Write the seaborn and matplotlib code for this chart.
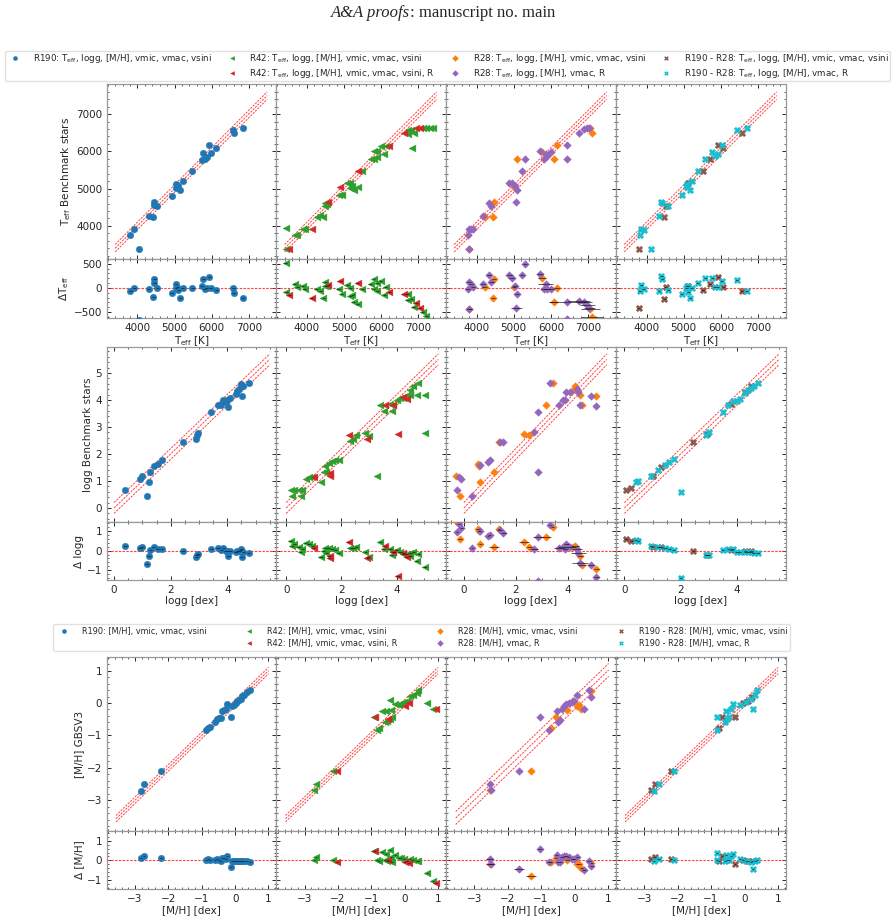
import matplotlib
matplotlib.use("Agg")
import matplotlib.pyplot as plt
import seaborn as sns
import numpy as np
from matplotlib.lines import Line2D
from matplotlib.ticker import AutoMinorLocator

# ------------------------------------------------------------------ data
# Teff  (x = derived, y = benchmark)
teff_r190_x = [3810, 3920, 4035, 4300, 4430, 4450, 4450, 4540, 4920, 5040, 5040, 5100, 5150, 5220, 5080,
               5480, 5730, 5780, 5820, 5870, 5940, 5980, 6130, 6580, 6600, 6840]
teff_r190_y = [3750, 3910, 3370, 4270, 4240, 4640, 4560, 4530, 4810, 5120, 5030, 5060, 4950, 5210, 5100,
               5470, 5770, 5970, 5790, 5860, 6160, 5970, 6090, 6580, 6490, 6620]
teff_r42a_x = [3427, 3445, 3673, 3736, 3882, 3945, 4264, 4355, 4445, 4490, 4536, 4490, 4854, 4945, 5082,
               5173, 5218, 5173, 5264, 5373, 5491, 5718, 5809, 5900, 5809, 5900, 5991, 6127, 6082, 6718,
               6809, 6718, 6882, 6836, 7127, 7218, 7309, 7400]
teff_r42a_y = [3946, 3370, 3748, 3748, 3919, 3919, 4243, 4288, 4243, 4621, 4576, 4531, 4828, 4828, 5143,
               5161, 5071, 5008, 4963, 5035, 5476, 5791, 5791, 5845, 5998, 5998, 6133, 6151, 5935, 6583,
               6583, 6475, 6493, 6088, 6628, 6628, 6628, 6628]
teff_r42b_x = [3518, 4127, 4582, 4900, 5373, 6218, 6627, 6945, 7040]
teff_r42b_y = [3370, 3919, 4648, 5035, 5476, 6133, 6493, 6628, 6628]
teff_r28a_x = [3809, 4218, 4445, 4464, 5009, 5082, 5764, 6082, 6155, 7100, 7064]
teff_r28a_y = [3370, 4243, 4243, 4648, 5035, 5800, 5971, 5791, 6160, 6493, 6628]
teff_r28a_e = [60, 60, 60, 60, 60, 80, 100, 120, 80, 300, 250]
teff_r28b_x = [3764, 3791, 3855, 3900, 3809, 4173, 4336, 4400, 4882, 4945, 5036, 5082, 5064, 5218, 5309,
               5718, 5809, 5855, 5900, 5991, 6445, 6445, 6764, 6900, 6973, 7036]
teff_r28b_y = [3748, 3910, 3928, 3910, 3370, 4261, 4603, 4531, 5143, 5143, 5071, 4963, 4648, 5476, 5800,
               5998, 5791, 5935, 5881, 5971, 6160, 5791, 6493, 6601, 6619, 6628]
teff_r28b_e = [50, 50, 50, 50, 50, 60, 60, 60, 60, 60, 60, 60, 150, 60, 60,
               80, 80, 200, 80, 80, 500, 150, 300, 200, 200, 150]
teff_mixa_x = [3791, 4473, 4518, 5109, 5518, 5700, 5927, 6064, 6564]
teff_mixa_y = [3370, 4243, 4531, 5143, 5476, 5791, 6160, 6088, 6493]
teff_mixb_x = [4127, 3818, 3855, 3927, 4336, 4400, 4427, 4582, 4945, 5064, 5091, 5127, 5182, 5218, 5382,
               5582, 5773, 5836, 5909, 6018, 6427, 6700]
teff_mixb_y = [3370, 3748, 3919, 3901, 4270, 4639, 4603, 4531, 4819, 5071, 5125, 5035, 4963, 5215, 5476,
               5791, 5971, 5863, 5935, 6160, 6583, 6628]

# logg
logg_r190_x = [0.39, 0.92, 0.98, 1.16, 1.24, 1.28, 1.40, 1.54, 1.68, 2.44, 2.91, 2.93, 2.97, 3.44, 3.67,
               3.79, 3.86, 3.94, 4.00, 4.04, 4.09, 4.31, 4.36, 4.41, 4.47, 4.50, 4.51, 4.57, 4.76]
logg_r190_y = [0.65, 1.07, 1.17, 0.46, 0.96, 1.32, 1.57, 1.64, 1.77, 2.43, 2.56, 2.72, 2.78, 3.54, 3.81,
               3.81, 3.98, 3.94, 3.98, 3.74, 4.07, 4.23, 4.32, 4.41, 4.51, 4.60, 4.16, 4.51, 4.63]
logg_r42a_x = [0.16, 0.30, 0.46, 0.58, 0.22, 0.52, 0.70, 0.82, 0.94, 1.26, 1.36, 1.45, 1.42, 1.54, 1.66,
               1.78, 1.90, 2.32, 2.42, 2.54, 2.86, 2.98, 3.28, 3.40, 3.52, 3.76, 3.82, 3.88, 4.00, 4.12,
               4.24, 4.36, 4.48, 4.60, 4.78, 4.48, 4.72, 5.02, 5.02]
logg_r42a_y = [0.65, 0.65, 0.65, 0.65, 0.46, 0.46, 1.07, 1.15, 1.15, 0.95, 1.32, 1.32, 1.57, 1.67, 1.73,
               1.79, 1.79, 2.47, 2.56, 2.72, 2.78, 2.65, 1.17, 3.83, 3.58, 3.86, 3.58, 3.83, 4.01, 4.07,
               4.07, 4.20, 4.38, 4.51, 4.63, 4.20, 4.20, 4.20, 2.78]
logg_r42b_x = [1.00, 1.57, 1.57, 2.26, 2.94, 3.58, 4.04, 4.24, 4.36, 3.88]
logg_r42b_y = [1.15, 1.30, 1.17, 2.72, 2.56, 3.83, 2.75, 4.10, 4.04, 3.83]
logg_r28a_x = [-0.32, -0.14, 0.54, 0.58, 0.63, 1.15, 1.35, 2.31, 2.52, 3.16, 3.42, 4.22, 4.28, 4.48, 4.54, 5.10]
logg_r28a_y = [1.20, 0.46, 1.64, 1.57, 0.95, 1.32, 2.43, 2.74, 2.72, 3.83, 4.63, 4.38, 4.53, 4.20, 3.83, 4.16]
logg_r28a_e = [0.05, 0.08, 0.08, 0.05, 0.05, 0.2, 0.05, 0.2, 0.1, 0.2, 0.05, 0.1, 0.15, 0.1, 0.15, 0.1]
logg_r28b_x = [-0.19, -0.10, -0.27, 0.31, 0.61, 0.93, 0.99, 1.38, 1.51, 2.70, 2.86, 2.86, 3.32, 3.68, 3.81,
               3.90, 3.94, 4.09, 4.35, 4.41, 4.48, 4.90, 5.10]
logg_r28b_y = [1.15, 1.07, 0.68, 0.46, 1.60, 1.69, 1.77, 2.43, 2.43, 2.80, 3.54, 1.32, 4.63, 3.83, 3.98,
               3.99, 4.28, 4.28, 4.41, 4.28, 3.83, 4.16, 3.77]
logg_r28b_e = [0.05, 0.05, 0.05, 0.05, 0.05, 0.05, 0.05, 0.1, 0.1, 0.15, 0.2, 0.05, 0.05, 0.2, 0.2,
               0.1, 0.1, 0.1, 0.2, 0.3, 0.3, 0.1, 0.1]
logg_mixa_x = [0.05, 0.25, 1.00, 1.30, 2.45, 2.95, 3.80, 4.30, 4.50]
logg_mixa_y = [0.65, 0.75, 1.20, 1.50, 2.43, 2.75, 3.85, 4.30, 4.50]
logg_mixb_x = [0.40, 0.50, 0.95, 1.20, 1.45, 1.60, 1.75, 2.00, 2.90, 3.00, 3.50, 3.70, 3.85, 4.00, 4.10,
               4.30, 4.40, 4.50, 4.60, 4.75]
logg_mixb_y = [0.95, 1.00, 1.20, 1.40, 1.60, 1.70, 1.80, 0.60, 2.70, 2.80, 3.55, 3.80, 3.95, 3.95, 4.05,
               4.25, 4.35, 4.45, 4.50, 4.62]

# [M/H]
mh_r190_x = [-2.83, -2.72, -2.22, -0.86, -0.82, -0.76, -0.61, -0.55, -0.48, -0.43, -0.38, -0.33, -0.28,
             -0.25, -0.11, -0.08, -0.03, 0.02, 0.07, 0.12, 0.17, 0.22, 0.27, 0.37, 0.45]
mh_r190_y = [-2.72, -2.49, -2.11, -0.84, -0.77, -0.74, -0.60, -0.49, -0.46, -0.46, -0.26, -0.21, -0.19,
             -0.02, -0.43, -0.10, -0.05, 0.00, 0.05, 0.10, 0.12, 0.21, 0.26, 0.33, 0.39]
mh_r42a_x = [-2.73, -2.66, -2.14, -0.91, -0.83, -0.76, -0.67, -0.57, -0.60, -0.52, -0.44, -0.37, -0.45,
             -0.40, -0.30, -0.18, -0.11, -0.03, 0.07, 0.15, 0.25, 0.36, 0.41, 0.66, 0.85]
mh_r42a_y = [-2.70, -2.49, -2.11, -0.43, -0.82, -0.77, -0.26, -0.24, -0.60, -0.57, -0.49, -0.43, 0.10,
             -0.21, -0.02, -0.05, 0.00, 0.02, 0.05, 0.23, 0.26, 0.31, 0.39, 0.00, -0.19]
mh_r42b_x = [-2.04, 0.02, 0.12, 0.95, -0.90, -0.50]
mh_r42b_y = [-2.11, -0.08, 0.00, -0.19, -0.43, -0.49]
mh_r28a_x = [-2.54, -1.31, -0.71, -0.56, -0.22, 0.08, 0.13, 0.20, 0.50]
mh_r28a_y = [-2.70, -2.11, -0.77, -0.43, -0.21, -0.10, -0.05, -0.19, 0.36]
mh_r28a_e = [0.1, 0.15, 0.05, 0.05, 0.05, 0.05, 0.05, 0.05, 0.05]
mh_r28b_x = [-2.54, -2.51, -1.65, -1.03, -0.76, -0.53, -0.50, -0.42, -0.37, -0.30, -0.24, -0.17, -0.07,
             -0.02, 0.08, 0.28, 0.43, 0.50]
mh_r28b_y = [-2.49, -2.70, -2.11, -0.43, -0.82, -0.26, -0.60, -0.51, -0.19, -0.10, -0.02, 0.00, 0.02,
             0.05, 0.26, -0.19, 0.39, 0.19]
mh_r28b_e = [0.1, 0.1, 0.15, 0.05, 0.05, 0.05, 0.05, 0.05, 0.05, 0.05, 0.05, 0.05, 0.05,
             0.05, 0.05, 0.05, 0.05, 0.05]
mh_mixa_x = [-2.79, -2.67, -2.20, -0.76, -0.66, -0.27, -0.04, 0.10, 0.23]
mh_mixa_y = [-2.70, -2.49, -2.11, -0.77, -0.43, -0.43, 0.00, 0.05, 0.19]
mh_mixb_x = [-2.71, -2.57, -2.12, -0.83, -0.81, -0.59, -0.53, -0.47, -0.56, -0.40, -0.34, -0.12, 0.03,
             0.18, 0.30, 0.38, 0.26]
mh_mixb_y = [-2.72, -2.49, -2.11, -0.82, -0.43, -0.60, -0.49, -0.43, -0.26, -0.19, -0.03, -0.05, 0.02,
             0.12, 0.26, 0.39, -0.19]

# typical uncertainties for series without individual values
teff_err_typ = 40
logg_err_typ = 0.06
mh_err_typ = 0.03

# one-to-one reference lines: span and half-width of band
teff_line = (3400, 7500, 100)
logg_line = (0.0, 5.5, 0.2)
mh_line = (-3.57, 1.0, 0.1)
mh_line_r28 = (-3.55, 1.02, 0.2)

legend1_labels = [
    r"R190: T$_{\rm eff}$, logg, [M/H], vmic, vmac, vsini",
    r"R42: T$_{\rm eff}$, logg, [M/H], vmic, vmac, vsini",
    r"R42: T$_{\rm eff}$, logg, [M/H], vmic, vmac, vsini, R",
    r"R28: T$_{\rm eff}$, logg, [M/H], vmic, vmac, vsini",
    r"R28: T$_{\rm eff}$, logg, [M/H], vmac, R",
    r"R190 - R28: T$_{\rm eff}$, logg, [M/H], vmic, vmac, vsini",
    r"R190 - R28: T$_{\rm eff}$, logg, [M/H], vmac, R",
]
legend2_labels = [
    "R190: [M/H], vmic, vmac, vsini",
    "R42: [M/H], vmic, vmac, vsini",
    "R42: [M/H], vmic, vmac, vsini, R",
    "R28: [M/H], vmic, vmac, vsini",
    "R28: [M/H], vmac, R",
    "R190 - R28: [M/H], vmic, vmac, vsini",
    "R190 - R28: [M/H], vmac, R",
]

# ------------------------------------------------------------------ style
sns.set_style("ticks")
plt.rcParams.update({
    "font.family": ["DejaVu Sans"],
    "font.size": 7.5,
    "axes.edgecolor": "0.6",
    "axes.linewidth": 0.9,
    "xtick.labelsize": 7.5,
    "ytick.labelsize": 7.5,
    "axes.labelsize": 7.5,
    "xtick.color": "0.15",
    "ytick.color": "0.15",
    "xtick.major.size": 3,
    "ytick.major.size": 3,
    "xtick.minor.size": 1.6,
    "ytick.minor.size": 1.6,
    "xtick.major.width": 0.7,
    "ytick.major.width": 0.7,
    "xtick.minor.width": 0.5,
    "ytick.minor.width": 0.5,
})

STY = {
    "r190": ("#1f77b4", "o", 22),
    "r42a": ("#2ca02c", "<", 24),
    "r42b": ("#d62728", "<", 24),
    "r28a": ("#ff7f0e", "D", 15),
    "r28b": ("#9467bd", "D", 15),
    "mixa": ("#8c564b", "X", 22),
    "mixb": ("#17becf", "X", 22),
}

W, H = 895, 921
fig = plt.figure(figsize=(W / 100, H / 100), dpi=100)


def add_ax(l, r, t, b):
    return fig.add_axes([l / W, 1 - b / H, (r - l) / W, (b - t) / H])


col_edges = [107, 276.5, 446, 616, 786]

groups = [
    dict(rows=(84, 259, 318),
         cols=[[("r190", teff_r190_x, teff_r190_y, teff_err_typ)],
               [("r42a", teff_r42a_x, teff_r42a_y, teff_err_typ), ("r42b", teff_r42b_x, teff_r42b_y, teff_err_typ)],
               [("r28a", teff_r28a_x, teff_r28a_y, teff_r28a_e), ("r28b", teff_r28b_x, teff_r28b_y, teff_r28b_e)],
               [("mixa", teff_mixa_x, teff_mixa_y, teff_err_typ), ("mixb", teff_mixb_x, teff_mixb_y, teff_err_typ)]],
         xlims=[(3180, 7750)] * 4, ylim=(3110, 7810), rylim=(-625, 600),
         xt=[4000, 5000, 6000, 7000], yt=[4000, 5000, 6000, 7000], ryt=[-500, 0, 500],
         lines=[teff_line] * 4,
         ylabel=r"T$_{\rm eff}$ Benchmark stars", rylabel=r"$\Delta$T$_{\rm eff}$",
         xlabel=r"T$_{\rm eff}$ [K]"),
    dict(rows=(347, 522, 580),
         cols=[[("r190", logg_r190_x, logg_r190_y, logg_err_typ)],
               [("r42a", logg_r42a_x, logg_r42a_y, logg_err_typ), ("r42b", logg_r42b_x, logg_r42b_y, logg_err_typ)],
               [("r28a", logg_r28a_x, logg_r28a_y, logg_r28a_e), ("r28b", logg_r28b_x, logg_r28b_y, logg_r28b_e)],
               [("mixa", logg_mixa_x, logg_mixa_y, logg_err_typ), ("mixb", logg_mixb_x, logg_mixb_y, logg_err_typ)]],
         xlims=[(-0.25, 5.74), (-0.35, 5.78), (-0.69, 5.86), (-0.3, 5.75)],
         ylim=(-0.52, 5.96), rylim=(-1.5, 1.46),
         xt=[0, 2, 4], yt=[0, 1, 2, 3, 4, 5], ryt=[-1, 0, 1],
         lines=[logg_line] * 4,
         ylabel="logg Benchmark stars", rylabel="Δ logg", xlabel="logg [dex]"),
    dict(rows=(657, 831, 889),
         cols=[[("r190", mh_r190_x, mh_r190_y, mh_err_typ)],
               [("r42a", mh_r42a_x, mh_r42a_y, mh_err_typ), ("r42b", mh_r42b_x, mh_r42b_y, mh_err_typ)],
               [("r28a", mh_r28a_x, mh_r28a_y, mh_r28a_e), ("r28b", mh_r28b_x, mh_r28b_y, mh_r28b_e)],
               [("mixa", mh_mixa_x, mh_mixa_y, mh_err_typ), ("mixb", mh_mixb_x, mh_mixb_y, mh_err_typ)]],
         xlims=[(-3.84, 1.24)] * 4, ylim=(-3.95, 1.42), rylim=(-1.46, 1.5),
         xt=[-3, -2, -1, 0, 1], yt=[-3, -2, -1, 0, 1], ryt=[-1, 0, 1],
         lines=[mh_line, mh_line, mh_line_r28, mh_line],
         ylabel="[M/H] GBSV3", rylabel="Δ [M/H]", xlabel="[M/H] [dex]"),
]

red = "#ff2020"

for g in groups:
    top, mid, bot = g["rows"]
    for ci in range(4):
        l, r = col_edges[ci], col_edges[ci + 1]
        ax = add_ax(l, r, top, mid)
        rax = add_ax(l, r, mid, bot)
        x0, x1, d = g["lines"][ci]
        lx = np.array([x0, x1])
        for off in (-d, 0, d):
            ax.plot(lx, lx + off, ls=(0, (2.2, 1.2)), color=red, lw=0.7, alpha=0.85, zorder=1)
        rax.axhline(0, ls=(0, (2.2, 1.2)), color=red, lw=0.8, alpha=0.85, zorder=1)
        for key, xs, ys, err in g["cols"][ci]:
            c, m, s = STY[key]
            xs = np.asarray(xs, float)
            ys = np.asarray(ys, float)
            res = ys - xs
            sns.scatterplot(x=xs, y=ys, ax=ax, marker=m, color=c, s=s, edgecolor=c,
                            linewidth=0.3, legend=False, zorder=3)
            sns.scatterplot(x=xs, y=res, ax=rax, marker=m, color=c, s=s, edgecolor=c,
                            linewidth=0.3, legend=False, zorder=3)
            rax.errorbar(xs, res, xerr=err, fmt="none", ecolor="0.1", elinewidth=0.6,
                         capsize=0, alpha=0.8, zorder=4)
        for a in (ax, rax):
            a.set_xlim(*g["xlims"][ci])
            a.set_xticks(g["xt"])
            a.xaxis.set_minor_locator(AutoMinorLocator())
            a.yaxis.set_minor_locator(AutoMinorLocator())
            a.tick_params(which="both", direction="in", top=True, right=True)
            a.set_xlabel("")
            a.set_ylabel("")
        ax.set_ylim(*g["ylim"])
        ax.set_yticks(g["yt"])
        rax.set_ylim(*g["rylim"])
        rax.set_yticks(g["ryt"])
        ax.set_xlim(*g["xlims"][ci])
        rax.set_xlim(*g["xlims"][ci])
        ax.tick_params(labelbottom=False)
        rax.set_xlabel(g["xlabel"], labelpad=1)
        if ci == 0:
            ax.set_ylabel(g["ylabel"], labelpad=2)
            rax.set_ylabel(g["rylabel"], labelpad=2)
        else:
            ax.tick_params(labelleft=False)
            rax.tick_params(labelleft=False)

# ------------------------------------------------------------------ legends
order = ["r190", None, "r42a", "r42b", "r28a", "r28b", "mixa", "mixb"]


def make_handles(labels):
    hs, ls = [], []
    it = iter(labels)
    for k in order:
        if k is None:
            hs.append(Line2D([], [], ls="none", marker=None))
            ls.append("")
        else:
            c, m, s = STY[k]
            hs.append(Line2D([], [], ls="none", marker=m, color=c, markersize=3.3,
                             markeredgewidth=0))
            ls.append(next(it))
    return hs, ls


h1, l1 = make_handles(legend1_labels)
fig.legend(h1, l1, loc="upper left", bbox_to_anchor=(5 / W, 1 - 81 / H, 885 / W, 30 / H),
           mode="expand", ncol=4, fontsize=6.3, borderaxespad=0, handletextpad=1.0,
           labelspacing=0.2, borderpad=0.15, frameon=True, edgecolor="0.85")

h2, l2 = make_handles(legend2_labels)
fig.legend(h2, l2, loc="upper left", bbox_to_anchor=(53 / W, 1 - 657 / H, 737 / W, 33 / H),
           mode="expand", ncol=4, fontsize=5.9, borderaxespad=0, handletextpad=1.2,
           labelspacing=0.35, borderpad=0.35, frameon=True, edgecolor="0.85")

# ------------------------------------------------------------------ header
fig.text(410 / W, 1 - 13 / H, "A&A proofs", ha="right", va="center", fontsize=12,
         family="Liberation Serif", style="italic")
fig.text(410 / W, 1 - 13 / H, ": manuscript no. main", ha="left", va="center", fontsize=12,
         family="Liberation Serif")

fig.savefig("out.png", dpi=100)
